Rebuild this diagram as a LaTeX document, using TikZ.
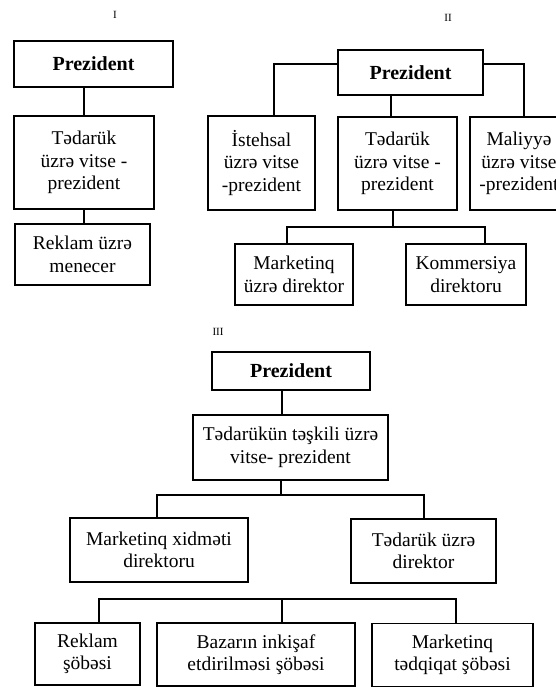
\documentclass[tikz,border=0pt]{standalone}
\usepackage{fontspec}
\setmainfont{Liberation Serif}
\begin{document}
\begin{tikzpicture}[x=1pt,y=-1pt,
  orgbox/.style={draw, line width=1.7pt, inner sep=0pt, align=center,
    font=\fontsize{19.5}{22.5}\selectfont},
  headbox/.style={orgbox, font=\fontsize{20}{24}\selectfont\bfseries},
  link/.style={line width=1.7pt},
  partlabel/.style={font=\fontsize{11}{13}\selectfont}]
\useasboundingbox[fill=white] (0,0) rectangle (556,687);

% ---------- Scheme I ----------
\node[partlabel] (lab1) at (115,15) {I};
\node[headbox, minimum width=159, minimum height=46] (p1) at (93.5,64) {Prezident};
\node[orgbox, minimum width=140, minimum height=93] (t1) at (84,162.5)
  {Tədarük\\üzrə vitse -\\prezident};
\node[orgbox, minimum width=135, minimum height=61] (r1) at (82.5,254.5)
  {Reklam üzrə\\menecer};
\draw[link] (t1.north) -- (t1.north |- p1.south);
\draw[link] (t1.south) -- (t1.south |- r1.north);

% ---------- Scheme II ----------
\node[partlabel] (lab2) at (448,18) {II};
\node[headbox, minimum width=145, minimum height=45] (p2) at (410.5,72.5) {Prezident};
\node[orgbox, minimum width=107, minimum height=94] (i2) at (261.5,163)
  {İstehsal\\üzrə vitse\\-prezident};
\node[orgbox, minimum width=119, minimum height=93] (t2) at (397.5,163.5)
  {Tədarük\\üzrə vitse -\\prezident};
\node[orgbox, minimum width=98, minimum height=93] (m2) at (519,163.5)
  {Maliyyə\\üzrə vitse\\-prezident};
\node[orgbox, minimum width=118, minimum height=61] (mk2) at (294,274.5)
  {Marketinq\\üzrə direktor};
\node[orgbox, minimum width=120, minimum height=61] (k2) at (466,274.5)
  {Kommersiya\\direktoru};
\draw[link] ([yshift=8.5pt]p2.west) -| ([xshift=12.5pt]i2.north);
\draw[link] ([yshift=8.5pt]p2.east) -| ([xshift=5pt]m2.north);
\draw[link] ([xshift=-6.5pt]t2.north) -- ([xshift=-6.5pt]t2.north |- p2.south);
\coordinate (bus2) at (393,227);
\draw[link] ([xshift=-4.5pt]t2.south) -- (bus2);
\draw[link] ([xshift=-7pt]mk2.north) |- (bus2) -| ([xshift=19pt]k2.north);

% ---------- Scheme III ----------
\node[partlabel] (lab3) at (218,332) {III};
\node[headbox, minimum width=158, minimum height=38] (p3) at (291,371) {Prezident};
\node[orgbox, minimum width=195, minimum height=65] (t3) at (290.5,447.5)
  {Tədarükün təşkili üzrə\\vitse- prezident};
\node[orgbox, minimum width=178, minimum height=64] (mx3) at (159,550)
  {Marketinq xidməti\\direktoru};
\node[orgbox, minimum width=145, minimum height=64] (td3) at (423.5,551)
  {Tədarük üzrə\\direktor};
\node[orgbox, minimum width=105, minimum height=62] (r3) at (87.5,654)
  {Reklam\\şöbəsi};
\node[orgbox, minimum width=198, minimum height=63] (b3) at (256,654.5)
  {Bazarın inkişaf\\etdirilməsi şöbəsi};
\node[orgbox, minimum width=161, minimum height=63] (mt3) at (452.5,655)
  {Marketinq\\tədqiqat şöbəsi};
\draw[link] ([xshift=-9pt]p3.south) -- ([xshift=-9pt]p3.south |- t3.north);
\coordinate (bus3) at (281,495);
\draw[link] ([xshift=-9.5pt]t3.south) -- (bus3);
\draw[link] ([xshift=-2pt]mx3.north) |- (bus3) -| ([xshift=0.5pt]td3.north);
\coordinate (bus3b) at (282,599);
\draw[link] ([xshift=11.5pt]r3.north) |- (bus3b) -| ([xshift=3.5pt]mt3.north);
\draw[link] (bus3b) -- (bus3b |- b3.north);
\end{tikzpicture}
\end{document}
